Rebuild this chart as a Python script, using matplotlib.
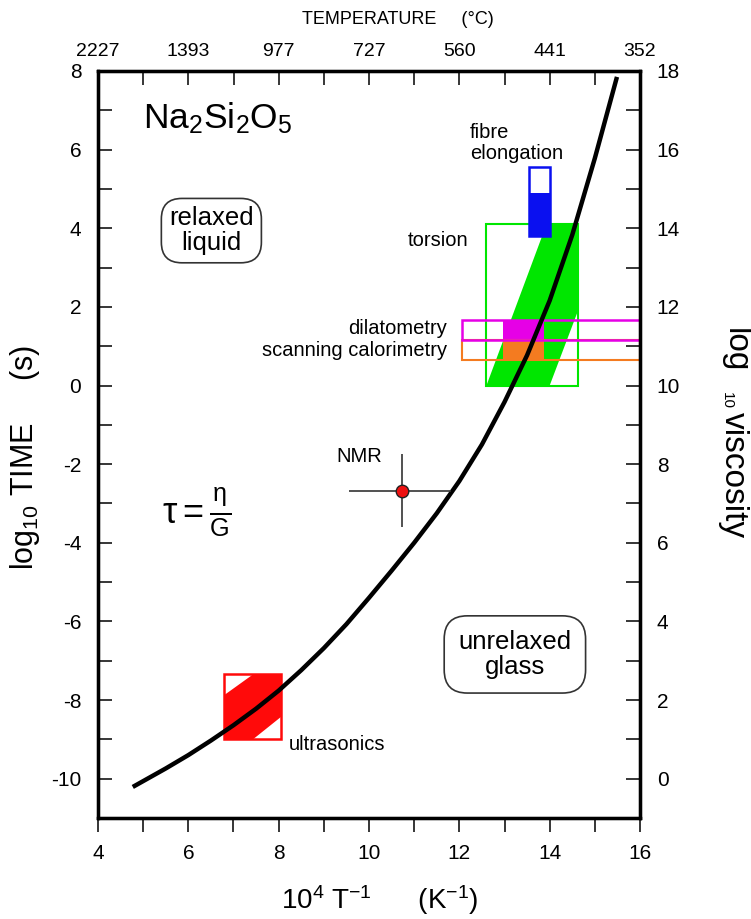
import matplotlib
matplotlib.use('Agg')
import matplotlib.pyplot as plt
from matplotlib.patches import Rectangle, Polygon
import numpy as np

plt.rcParams['font.family'] = ['Liberation Sans', 'DejaVu Sans']
plt.rcParams['mathtext.fontset'] = 'custom'
plt.rcParams['mathtext.rm'] = 'Liberation Sans'
plt.rcParams['mathtext.it'] = 'Liberation Sans:italic'
plt.rcParams['mathtext.bf'] = 'Liberation Sans:bold'

# relaxation time curve
curve_x = [4.77, 5.5, 6.0, 6.5, 7.0, 7.5, 8.0, 8.5, 9.0, 9.5, 10.0, 10.5,
           11.0, 11.5, 12.0, 12.5, 13.0, 13.5, 14.0, 14.5, 15.0, 15.49]
curve_y = [-10.21, -9.74, -9.40, -9.03, -8.64, -8.22, -7.76, -7.24, -6.68, -6.07, -5.40, -4.71,
           -4.00, -3.25, -2.43, -1.50, -0.42, 0.77, 2.16, 3.83, 5.78, 7.85]

# NMR point with error bars
nmr_x, nmr_y = 10.72, -2.68
nmr_xerr = [[1.16], [1.10]]
nmr_yerr = 0.93

# ultrasonics box and band
ultra_box = (6.8, 8.05, -9.0, -7.35)
ultra_band_x = [6.8, 7.43, 8.05, 8.05, 7.43, 6.8]
ultra_band_y = [-9.0, -9.0, -8.43, -7.35, -7.35, -7.87]

# torsion box and band
torsion_box = (12.6, 14.62, 0.0, 4.1)
torsion_band_x = [12.6, 14.0, 14.62, 14.62, 13.93]
torsion_band_y = [0.0, 0.0, 1.88, 4.1, 4.1]

# fibre elongation
fibre_box = (13.55, 14.0, 3.8, 5.55)
fibre_fill = (13.55, 14.0, 3.8, 4.9)

# dilatometry / scanning calorimetry
dil_box = (12.05, 16.0, 1.15, 1.67)
dil_fill = (12.97, 13.87, 1.15, 1.67)
dsc_box = (12.05, 16.0, 0.65, 1.15)
dsc_fill = (12.97, 13.87, 0.65, 1.15)

bottom_ticks = list(range(4, 17))
left_ticks = list(range(-10, 9))
right_ticks = list(range(0, 19))
top_tick_labels = ['2227', '1393', '977', '727', '560', '441', '352']

GREEN = '#00e600'
BLUE = '#0a10f0'
MAGENTA = '#e600e6'
ORANGE = '#f47b20'
RED = '#ff0a0a'


def rect(ax, box, **kw):
    x0, x1, y0, y1 = box
    ax.add_patch(Rectangle((x0, y0), x1 - x0, y1 - y0, **kw))


fig = plt.figure(figsize=(7.51, 9.19), dpi=100)
ax = fig.add_axes([98 / 751, 1 - 818 / 919, (640 - 98) / 751, (818 - 71) / 919])
ax.set_xlim(4, 16)
ax.set_ylim(-11, 8)

# torsion
ax.add_patch(Polygon(list(zip(torsion_band_x, torsion_band_y)), closed=True, fc=GREEN, ec='none', zorder=1))
rect(ax, torsion_box, fill=False, ec=GREEN, lw=1.5, zorder=1.5)

# dilatometry & calorimetry
rect(ax, dsc_fill, fc=ORANGE, ec='none', zorder=2)
rect(ax, dil_fill, fc=MAGENTA, ec='none', zorder=2)
rect(ax, dsc_box, fill=False, ec=ORANGE, lw=1.5, zorder=2.2)
rect(ax, dil_box, fill=False, ec=MAGENTA, lw=1.8, zorder=2.3)

# fibre elongation
rect(ax, fibre_fill, fc=BLUE, ec='none', zorder=2)
rect(ax, fibre_box, fill=False, ec=BLUE, lw=1.8, zorder=2.3)

# ultrasonics
ax.add_patch(Polygon(list(zip(ultra_band_x, ultra_band_y)), closed=True, fc=RED, ec='none', zorder=2))
rect(ax, ultra_box, fill=False, ec=RED, lw=1.8, zorder=2.3)

# main curve
ax.plot(curve_x, curve_y, color='black', lw=3.2, solid_capstyle='butt', solid_joinstyle='round', zorder=5)

# NMR
ax.errorbar(nmr_x, nmr_y, xerr=nmr_xerr, yerr=nmr_yerr, fmt='o', ms=9, mfc='#ee1111',
            mec='#222222', mew=1.0, ecolor='#333333', elinewidth=1.2, capsize=0, zorder=6)

# annotations
ax.text(5.0, 6.55, r'$\mathregular{Na_2Si_2O_5}$', fontsize=25.5, ha='left', va='baseline')
ax.text(6.51, 3.94, 'relaxed\nliquid', fontsize=18.5, ha='center', va='center', linespacing=1.05,
        bbox=dict(boxstyle='round,pad=0.3,rounding_size=0.8', fc='white', ec='#333333', lw=1.2))
ax.text(13.23, -6.84, 'unrelaxed\nglass', fontsize=18.5, ha='center', va='center', linespacing=1.05,
        bbox=dict(boxstyle='round,pad=0.55,rounding_size=0.9', fc='white', ec='#333333', lw=1.2))
ax.text(6.19, -3.22, r'$\mathrm{\tau} = \frac{\mathrm{\eta}}{\mathrm{G}}$', fontsize=26, ha='center', va='center')
ax.text(9.27, -1.80, 'NMR', fontsize=14.5, ha='left', va='center')
ax.text(10.86, 3.68, 'torsion', fontsize=14.5, ha='left', va='center')
ax.text(12.24, 6.17, 'fibre\nelongation', fontsize=14.5, ha='left', va='center', linespacing=1.15)
ax.text(11.73, 1.46, 'dilatometry', fontsize=14.5, ha='right', va='center')
ax.text(11.73, 0.90, 'scanning calorimetry', fontsize=14.5, ha='right', va='center')
ax.text(8.23, -9.14, 'ultrasonics', fontsize=14.5, ha='left', va='center')

# axes styling
ax.set_xticks(bottom_ticks)
ax.set_xticklabels([str(v) if v % 2 == 0 else '' for v in bottom_ticks])
ax.set_yticks(left_ticks)
ax.set_yticklabels([str(v) if v % 2 == 0 else '' for v in left_ticks])
ax.tick_params(axis='x', direction='out', length=10, width=1.1, pad=9, labelsize=15)
ax.tick_params(axis='y', direction='in', length=10, width=1.1, pad=12, labelsize=15)
for s in ax.spines.values():
    s.set_linewidth(2.3)

axr = ax.twinx()
axr.set_ylim(-1, 18)
axr.set_yticks(right_ticks)
axr.set_yticklabels([str(v) if v % 2 == 0 else '' for v in right_ticks])
axr.tick_params(axis='y', direction='in', length=10, width=1.1, pad=12, labelsize=15)

axt = ax.twiny()
axt.set_xlim(4, 16)
axt.set_xticks(bottom_ticks)
top_labels = []
k = 0
for v in bottom_ticks:
    if v % 2 == 0:
        top_labels.append(top_tick_labels[k])
        k += 1
    else:
        top_labels.append('')
axt.set_xticklabels(top_labels)
axt.tick_params(axis='x', direction='in', length=10, width=1.1, pad=8, labelsize=14)
for a in (axr, axt):
    for s in a.spines.values():
        s.set_linewidth(2.3)

# axis titles
fig.text(398 / 751, 1 - 20 / 919, 'TEMPERATURE     (\u00b0C)', fontsize=13, ha='center', va='center')
fig.text(380 / 751, 1 - 900 / 919, r'10$^{4}$ T$^{-1}$      (K$^{-1}$)', fontsize=20, ha='center', va='center')
fig.text(25 / 751, 1 - 457 / 919, r'log$_{10}$ TIME     (s)', fontsize=22, rotation=90, ha='center', va='center')
fig.text(735 / 751, 1 - 350 / 919, 'log', fontsize=24, rotation=270, ha='center', va='center')
fig.text(727 / 751, 1 - 400 / 919, '10', fontsize=11, rotation=270, ha='center', va='center')
fig.text(733 / 751, 1 - 475 / 919, 'viscosity', fontsize=24, rotation=270, ha='center', va='center')

fig.savefig('out.png', dpi=100)
